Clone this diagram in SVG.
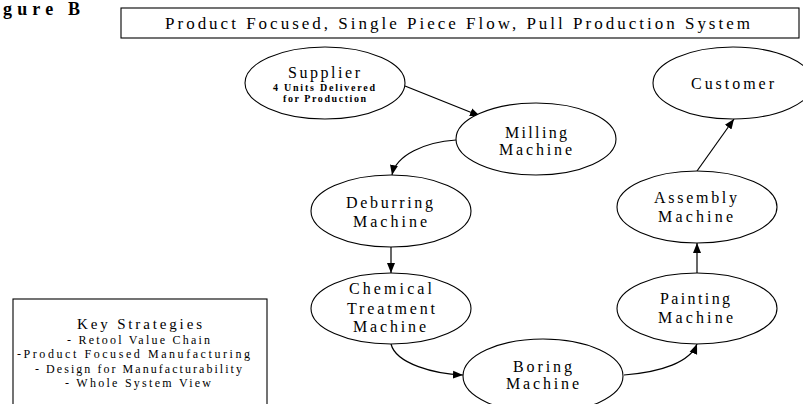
<svg xmlns="http://www.w3.org/2000/svg" width="803" height="404" viewBox="0 0 803 404">
<defs>
<marker id="arr" markerUnits="userSpaceOnUse" markerWidth="10" markerHeight="10" viewBox="0 0 10 10" refX="10" refY="5" orient="auto">
<path d="M0,1 L10,5 L0,9 Z" fill="#000"/>
</marker>
<style>
.node ellipse{fill:#fff;stroke:#000;stroke-width:1.1}
.box{fill:#fff;stroke:#000;stroke-width:1.1}
text{font-family:"Liberation Serif","Times New Roman",serif;fill:#000}
.lbl{font-size:16px}
.sub{font-size:10px;font-weight:bold}
.ks{font-size:12px}
#connectors path{fill:none;stroke:#000;stroke-width:1.2;marker-end:url(#arr)}
</style>
</defs>
<rect width="803" height="404" fill="#fff"/>
<text x="3" y="15" font-size="18" font-weight="bold" textLength="77" lengthAdjust="spacing">gure B</text>
<g id="title">
<rect class="box" x="121" y="8" width="678" height="30"/>
<text x="165" y="29" font-size="17" textLength="585" lengthAdjust="spacing">Product Focused, Single Piece Flow, Pull Production System</text>
</g>
<g id="key-strategies">
<rect class="box" x="13" y="299" width="254" height="120"/>
<text x="77" y="329" font-size="15" textLength="125" lengthAdjust="spacing">Key Strategies</text>
<text class="ks" x="67" y="344" textLength="143" lengthAdjust="spacing">- Retool Value Chain</text>
<text class="ks" x="17" y="358" textLength="233" lengthAdjust="spacing">-Product Focused Manufacturing</text>
<text class="ks" x="35" y="373" textLength="207" lengthAdjust="spacing">- Design for Manufacturability</text>
<text class="ks" x="65" y="387" textLength="146" lengthAdjust="spacing">- Whole System View</text>
</g>
<g id="connectors">
<path d="M405,86 L480,116"/>
<path d="M456,140 C425,142 396,155 392,175"/>
<path d="M391,247 L391,273"/>
<path d="M391,344 C396,364 435,374 463,375"/>
<path d="M624,375 C662,372 690,362 697,344"/>
<path d="M697,273 L697,243"/>
<path d="M697,171 L734,119"/>
</g>
<g id="supplier" class="node">
<ellipse cx="325" cy="83" rx="80" ry="36"/>
<text class="lbl" x="288" y="78" textLength="72" lengthAdjust="spacing">Supplier</text>
<text class="sub" x="273" y="91" textLength="102" lengthAdjust="spacing">4 Units Delivered</text>
<text class="sub" x="283" y="102" textLength="83" lengthAdjust="spacing">for Production</text>
</g>
<g id="milling" class="node">
<ellipse cx="536" cy="139" rx="80" ry="36"/>
<text class="lbl" x="505" y="138" textLength="62" lengthAdjust="spacing">Milling</text>
<text class="lbl" x="499" y="155" textLength="73" lengthAdjust="spacing">Machine</text>
</g>
<g id="customer" class="node">
<ellipse cx="733" cy="83" rx="80" ry="36"/>
<text class="lbl" x="691" y="89" textLength="83" lengthAdjust="spacing">Customer</text>
</g>
<g id="deburring" class="node">
<ellipse cx="391" cy="211" rx="80" ry="36"/>
<text class="lbl" x="346" y="208" textLength="87" lengthAdjust="spacing">Deburring</text>
<text class="lbl" x="353" y="227" textLength="74" lengthAdjust="spacing">Machine</text>
</g>
<g id="chemical" class="node">
<ellipse cx="391" cy="308.5" rx="80" ry="35.5"/>
<text class="lbl" x="349" y="294" textLength="83" lengthAdjust="spacing">Chemical</text>
<text class="lbl" x="347" y="314" textLength="88" lengthAdjust="spacing">Treatment</text>
<text class="lbl" x="353" y="332" textLength="73" lengthAdjust="spacing">Machine</text>
</g>
<g id="boring" class="node">
<ellipse cx="543" cy="376" rx="80" ry="37"/>
<text class="lbl" x="513" y="372" textLength="59" lengthAdjust="spacing">Boring</text>
<text class="lbl" x="506" y="389" textLength="73" lengthAdjust="spacing">Machine</text>
</g>
<g id="painting" class="node">
<ellipse cx="697" cy="308.5" rx="80" ry="35.5"/>
<text class="lbl" x="660" y="304" textLength="70" lengthAdjust="spacing">Painting</text>
<text class="lbl" x="658" y="323" textLength="75" lengthAdjust="spacing">Machine</text>
</g>
<g id="assembly" class="node">
<ellipse cx="697" cy="207" rx="80" ry="36"/>
<text class="lbl" x="654" y="203" textLength="83" lengthAdjust="spacing">Assembly</text>
<text class="lbl" x="658" y="222" textLength="75" lengthAdjust="spacing">Machine</text>
</g>
</svg>
